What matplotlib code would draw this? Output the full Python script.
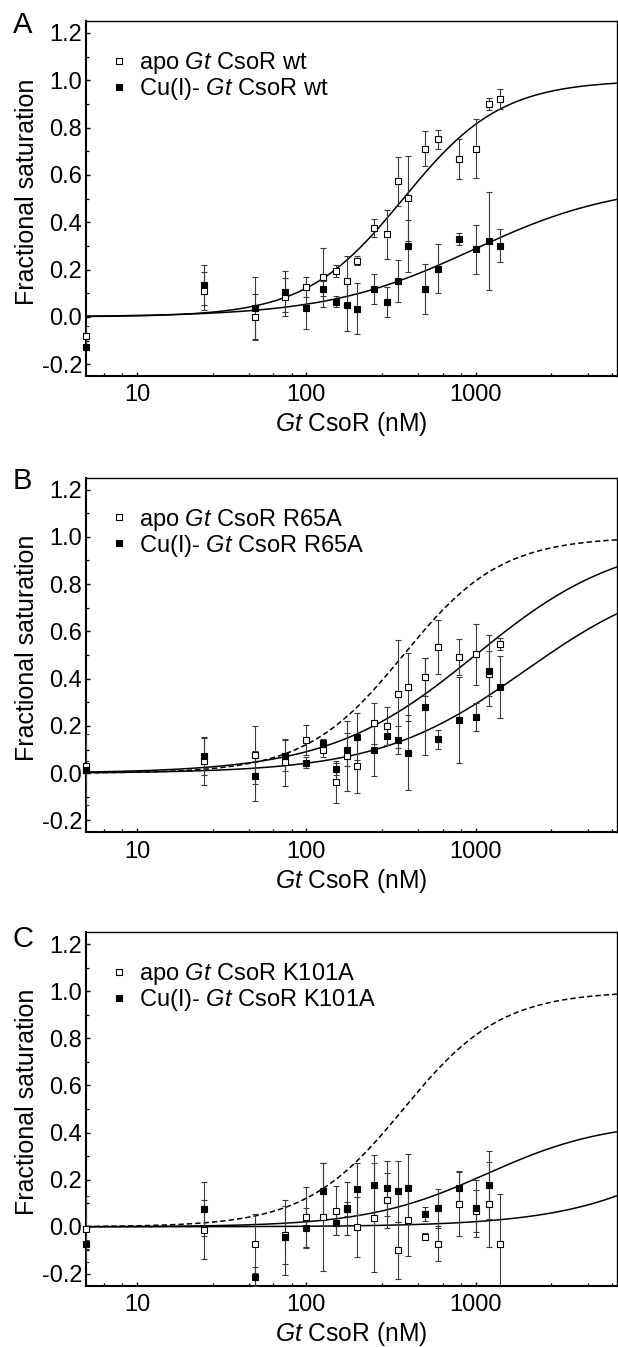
import numpy as np
import matplotlib
matplotlib.use("Agg")
import matplotlib.pyplot as plt
from matplotlib.ticker import FixedLocator, FixedFormatter, NullFormatter

plt.rcParams['font.family'] = ['Liberation Sans', 'DejaVu Sans']
plt.rcParams['mathtext.fontset'] = 'custom'
plt.rcParams['mathtext.rm'] = 'Liberation Sans'
plt.rcParams['mathtext.it'] = 'Liberation Sans:italic'
plt.rcParams['axes.unicode_minus'] = False

# ---------------- data ----------------
conc_nM = [5, 25, 50, 75, 100, 125, 150, 175, 200, 250, 300, 350, 400, 500, 600, 800, 1000, 1200, 1400]

apo_wt = [-0.08, 0.108, 0.0, 0.082, 0.125, 0.167, 0.193, 0.152, 0.238, 0.376, 0.348, 0.572, 0.501, 0.711, 0.751, 0.667, 0.711, 0.900, 0.919]
apo_wt_err = [0.04, 0.08, 0.096, 0.08, 0.042, 0.125, 0.025, 0.106, 0.018, 0.039, 0.104, 0.104, 0.18, 0.074, 0.04, 0.083, 0.124, 0.024, 0.042]
cu_wt = [-0.128, 0.134, 0.038, 0.107, 0.036, 0.119, 0.064, 0.049, 0.035, 0.119, 0.063, 0.152, 0.301, 0.118, 0.204, 0.328, 0.286, 0.320, 0.300]
cu_wt_err = [0.01, 0.083, 0.131, 0.086, 0.087, 0.031, 0.024, 0.108, 0.106, 0.064, 0.064, 0.088, 0.11, 0.105, 0.105, 0.025, 0.104, 0.206, 0.07]

apo_r65a = [0.03, 0.05, 0.076, 0.046, 0.141, 0.10, -0.038, 0.071, 0.031, 0.212, 0.199, 0.335, 0.364, 0.406, 0.533, 0.491, 0.503, 0.421, 0.547]
apo_r65a_err = [0.02, 0.10, 0.123, 0.1, 0.063, 0.03, 0.089, 0.148, 0.113, 0.087, 0.08, 0.23, 0.144, 0.08, 0.113, 0.075, 0.128, 0.096, 0.025]
cu_r65a = [0.015, 0.074, -0.011, 0.074, 0.045, 0.126, 0.018, 0.10, 0.155, 0.098, 0.156, 0.141, 0.087, 0.282, 0.143, 0.226, 0.239, 0.434, 0.363]
cu_r65a_err = [0.15, 0.08, 0.106, 0.066, 0.025, 0.02, 0.025, 0.07, 0.10, 0.109, 0.038, 0.06, 0.158, 0.205, 0.04, 0.183, 0.06, 0.15, 0.131]

apo_k101a = [-0.01, -0.012, -0.072, -0.035, 0.042, 0.041, 0.069, 0.075, -0.002, 0.039, 0.112, -0.10, 0.028, -0.042, -0.072, 0.096, 0.067, 0.096, -0.072]
apo_k101a_err = [0.14, 0.125, 0.125, 0.125, 0.127, 0.23, 0.105, 0.03, 0.128, 0.23, 0.118, 0.12, 0.15, 0.015, 0.075, 0.135, 0.09, 0.18, 0.21]
cu_k101a = [-0.075, 0.076, -0.211, -0.045, -0.006, 0.150, 0.016, 0.079, 0.161, 0.176, 0.163, 0.151, 0.163, 0.056, 0.079, 0.163, 0.078, 0.177, np.nan]
cu_k101a_err = [0.02, 0.115, 0.04, 0.16, 0.085, 0.12, 0.05, 0.112, 0.11, 0.13, 0.117, 0.13, 0.146, 0.03, 0.082, 0.074, 0.12, 0.145, np.nan]

# fitted binding curves: (amplitude, K (nM), Hill coefficient)
fit_apo_wt = (1.0, 375.0, 1.5)
fit_cu_wt = (0.566, 964.0, 1.0)
fit_apo_r65a = (1.0, 1000.0, 1.0)
fit_cu_r65a = (0.868, 1964.0, 1.0)
fit_apo_k101a = (1.0, 45000.0, 1.0)
fit_cu_k101a = (0.45, 1165.0, 1.22)

panel_letters = ['A', 'B', 'C']
legend_labels = [
    (r'apo $\mathit{Gt}$ CsoR wt', r'Cu(I)- $\mathit{Gt}$ CsoR wt'),
    (r'apo $\mathit{Gt}$ CsoR R65A', r'Cu(I)- $\mathit{Gt}$ CsoR R65A'),
    (r'apo $\mathit{Gt}$ CsoR K101A', r'Cu(I)- $\mathit{Gt}$ CsoR K101A'),
]
xtick_vals = [10, 100, 1000]
xtick_labels = ['10', '100', '1000']
ytick_vals = [-0.2, 0.0, 0.2, 0.4, 0.6, 0.8, 1.0, 1.2]
ytick_labels = ['-0.2', '0.0', '0.2', '0.4', '0.6', '0.8', '1.0', '1.2']
xlabel_text = r'$\mathit{Gt}$ CsoR (nM)'
ylabel_text = 'Fractional saturation'


def binding(x, p):
    a, k, n = p
    x = np.asarray(x, dtype=float)
    return a * x ** n / (k ** n + x ** n)


# ---------------- layout ----------------
W, H = 618, 1347
fig = plt.figure(figsize=(W / 100, H / 100), dpi=100)
left_px, right_px = 86, 617
panel_px = [(21, 376), (477.7, 832.3), (932.3, 1285.7)]
letter_pos = [(12.7, 33.3), (12.7, 489.3), (12.7, 946.7)]

XMIN, XMAX = 5, 6850
xfine = np.logspace(np.log10(XMIN), np.log10(XMAX), 500)

panels = [
    (apo_wt, apo_wt_err, cu_wt, cu_wt_err, [(fit_apo_wt, '-'), (fit_cu_wt, '-')]),
    (apo_r65a, apo_r65a_err, cu_r65a, cu_r65a_err,
     [(fit_apo_wt, '--'), (fit_apo_r65a, '-'), (fit_cu_r65a, '-')]),
    (apo_k101a, apo_k101a_err, cu_k101a, cu_k101a_err,
     [(fit_apo_wt, '--'), (fit_cu_k101a, '-'), (fit_apo_k101a, '-')]),
]

minor_x = [d * m for d in [1, 10, 100, 1000] for m in [2.8, 4.6, 6.4, 8.2]]
minor_y = [-0.1, 0.1, 0.3, 0.5, 0.7, 0.9, 1.1]

for i, (apo, apo_e, cu, cu_e, curves) in enumerate(panels):
    top, bot = panel_px[i]
    ax = fig.add_axes([left_px / W, 1 - bot / H, (right_px - left_px) / W, (bot - top) / H])
    ax.set_xscale('log')
    ax.set_xlim(XMIN, XMAX)
    ax.set_ylim(-0.25, 1.25)

    for p, ls in curves:
        ax.plot(xfine, binding(xfine, p), color='black', lw=1.1,
                ls=ls, dashes=(3.5, 2) if ls == '--' else (None, None), zorder=2)

    ax.errorbar(conc_nM, apo, yerr=apo_e, fmt='none', ecolor='#3a3a3a',
                elinewidth=0.8, capsize=2.4, capthick=0.8, zorder=3)
    ax.errorbar(conc_nM, cu, yerr=cu_e, fmt='none', ecolor='#3a3a3a',
                elinewidth=0.8, capsize=2.4, capthick=0.8, zorder=3)
    h1, = ax.plot(conc_nM, apo, 's', ms=5.0, mfc='white', mec='black', mew=0.8,
                  ls='none', zorder=4, clip_on=False, label=legend_labels[i][0])
    h2, = ax.plot(conc_nM, cu, 's', ms=5.0, mfc='black', mec='black', mew=0.8,
                  ls='none', zorder=5, clip_on=False, label=legend_labels[i][1])

    ax.xaxis.set_major_locator(FixedLocator(xtick_vals))
    ax.xaxis.set_major_formatter(FixedFormatter(xtick_labels))
    ax.xaxis.set_minor_locator(FixedLocator(minor_x))
    ax.xaxis.set_minor_formatter(NullFormatter())
    ax.yaxis.set_major_locator(FixedLocator(ytick_vals))
    ax.yaxis.set_major_formatter(FixedFormatter(ytick_labels))
    ax.yaxis.set_minor_locator(FixedLocator(minor_y))

    ax.tick_params(which='both', direction='in', top=False, right=False)
    ax.tick_params(which='major', length=3.2, width=1.0, labelsize=17)
    ax.tick_params(which='minor', length=2.2, width=0.9)
    ax.tick_params(axis='x', which='major', pad=6)
    ax.tick_params(axis='y', which='major', pad=2.8)

    for s in ['left', 'bottom']:
        ax.spines[s].set_linewidth(1.5)
    for s in ['top', 'right']:
        ax.spines[s].set_linewidth(1.0)

    ax.set_xlabel(xlabel_text, fontsize=17.7)
    ax.xaxis.set_label_coords(0.5, -0.097)
    ax.set_ylabel(ylabel_text, fontsize=18)
    ax.yaxis.set_label_coords(-0.0893, 0.52)

    ax.legend(handles=[h1, h2], loc='upper left',
              bbox_to_anchor=((106.8 - left_px) / (right_px - left_px), 1 - 29 / (bot - top)),
              frameon=False, fontsize=17, handlelength=1.0, handletextpad=0.35,
              borderpad=0, borderaxespad=0, labelspacing=0.0, numpoints=1)

    lx, ly = letter_pos[i]
    fig.text(lx / W, 1 - ly / H, panel_letters[i], fontsize=21, ha='left', va='baseline')

fig.savefig('out.png', dpi=100)
